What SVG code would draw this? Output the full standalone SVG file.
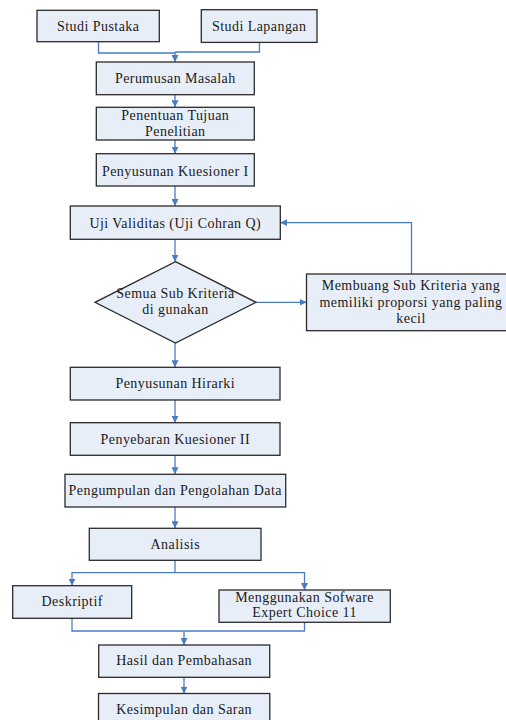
<svg xmlns="http://www.w3.org/2000/svg" width="506" height="720" viewBox="0 0 506 720">
<style>
.box{fill:#e8eef8;stroke:#2b2b2b;stroke-width:1.3}
.t{font-family:"Liberation Serif","Times New Roman",serif;font-size:14px;fill:#1a1a1a;text-anchor:middle;letter-spacing:0.45px}
.c{fill:none;stroke:#4a7cc6;stroke-width:1.3;marker-end:url(#ah)}
.l{fill:none;stroke:#4a7cc6;stroke-width:1.3}
</style>
<defs>
<marker id="ah" viewBox="0 0 10 10" refX="10" refY="5" markerWidth="7" markerHeight="7" markerUnits="userSpaceOnUse" orient="auto">
<path d="M0,0 L10,5 L0,10 z" fill="#4a7cc6"/>
</marker>
</defs>
<rect width="506" height="720" fill="#fff"/>
<g id="connectors">
<path class="l" d="M98.5,42 V53 H175"/>
<path class="l" d="M259.5,42 V52 H175"/>
<path class="c" d="M175,52 V62"/>
<path class="c" d="M175,94.7 V107.3"/>
<path class="c" d="M175,140 V153.7"/>
<path class="c" d="M175,186 V206"/>
<path class="c" d="M175,239.3 V261.7"/>
<path class="c" d="M256,302.3 H306.5"/>
<path class="c" d="M411.5,274 V222.7 H280.3"/>
<path class="c" d="M175,343 V367.3"/>
<path class="c" d="M175,400 V422.7"/>
<path class="c" d="M175,455.3 V474.3"/>
<path class="c" d="M175,507 V528.3"/>
<path class="l" d="M175,560.3 V572.7"/>
<path class="c" d="M175,572.7 H72 V585.7"/>
<path class="c" d="M175,572.7 H304.5 V590"/>
<path class="l" d="M72,618.3 V631 H304.5 V622.3"/>
<path class="c" d="M184,631 V645"/>
<path class="c" d="M184,677.3 V693.5"/>
</g>
<g id="studi-pustaka"><rect class="box" x="37" y="10.3" width="122.3" height="31.4"/><text class="t" x="98.2" y="30.5">Studi Pustaka</text></g>
<g id="studi-lapangan"><rect class="box" x="201.3" y="9.7" width="115.7" height="32.7"/><text class="t" x="259.2" y="30.5">Studi Lapangan</text></g>
<g id="perumusan"><rect class="box" x="96.3" y="62" width="158" height="32.7"/><text class="t" x="175.3" y="83">Perumusan Masalah</text></g>
<g id="penentuan"><rect class="box" x="96.3" y="107.3" width="158" height="32.7"/><text class="t" x="175.3" y="120">Penentuan Tujuan</text><text class="t" x="175.3" y="135.8">Penelitian</text></g>
<g id="kuesioner1"><rect class="box" x="96.3" y="153.7" width="158" height="32.3"/><text class="t" x="175.3" y="175.5">Penyusunan Kuesioner I</text></g>
<g id="uji"><rect class="box" x="70.3" y="206" width="210" height="33.3"/><text class="t" x="175.3" y="227.5">Uji Validitas (Uji Cohran Q)</text></g>
<g id="keputusan"><polygon class="box" points="175.5,261.7 256,302.3 175.5,343 95,302.3"/><text class="t" x="175.5" y="298.3">Semua Sub Kriteria</text><text class="t" x="175.5" y="314">di gunakan</text></g>
<g id="membuang"><rect class="box" x="306.5" y="274" width="210" height="56.7"/><text class="t" x="411" y="290.3">Membuang Sub Kriteria yang</text><text class="t" x="411" y="306.7">memiliki proporsi yang paling</text><text class="t" x="411" y="322.5">kecil</text></g>
<g id="hirarki"><rect class="box" x="70.3" y="367.3" width="209.7" height="32.7"/><text class="t" x="175.3" y="388">Penyusunan Hirarki</text></g>
<g id="kuesioner2"><rect class="box" x="70.3" y="422.7" width="209.7" height="32.6"/><text class="t" x="175.3" y="443.5">Penyebaran Kuesioner II</text></g>
<g id="pengumpulan"><rect class="box" x="65" y="474.3" width="220.7" height="32.7"/><text class="t" x="175.3" y="495">Pengumpulan dan Pengolahan Data</text></g>
<g id="analisis"><rect class="box" x="89.3" y="528.3" width="171.7" height="32"/><text class="t" x="175.3" y="548.5">Analisis</text></g>
<g id="deskriptif"><rect class="box" x="12.7" y="585.7" width="119" height="32.6"/><text class="t" x="72.2" y="606">Deskriptif</text></g>
<g id="software"><rect class="box" x="219" y="590" width="171.3" height="32.3"/><text class="t" x="304.6" y="601.8">Menggunakan Sofware</text><text class="t" x="304.6" y="616.8">Expert Choice 11</text></g>
<g id="hasil"><rect class="box" x="98.7" y="645" width="171" height="32.3"/><text class="t" x="184.2" y="664.5">Hasil dan Pembahasan</text></g>
<g id="kesimpulan"><rect class="box" x="98.5" y="693.5" width="171.3" height="32.5"/><text class="t" x="184.2" y="713.5">Kesimpulan dan Saran</text></g>
</svg>
